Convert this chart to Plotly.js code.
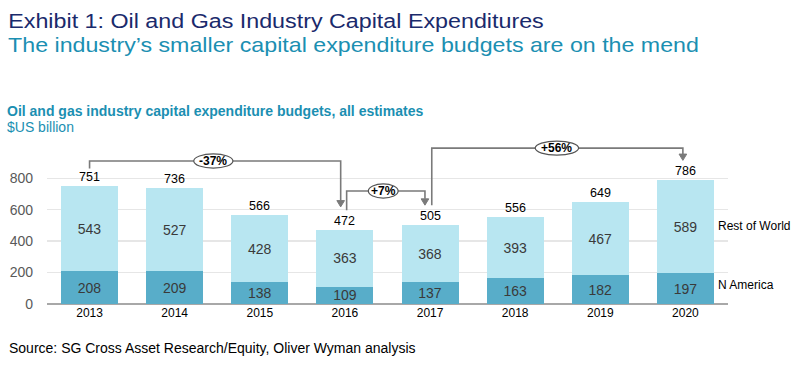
<!DOCTYPE html>
<html>
<head>
<meta charset="utf-8">
<script src="https://cdn.plot.ly/plotly-3.0.1.min.js"></script>
<style>
html,body{margin:0;padding:0;background:#fff;}
#chart{width:800px;height:369px;}
</style>
</head>
<body>
<div id="chart"></div>
<script>
// ---- data ----
const years = ['2013','2014','2015','2016','2017','2018','2019','2020'];
const nAmerica = [208, 209, 138, 109, 137, 163, 182, 197];
const restOfWorld = [543, 527, 428, 363, 368, 393, 467, 589];
const totals = [751, 736, 566, 472, 505, 556, 649, 786];
const yTicks = [0, 200, 400, 600, 800];
const changeLabels = ['-37%', '+7%', '+56%'];
const seriesNames = ['N America', 'Rest of World'];

// ---- styles ----
const FONT = 'Liberation Sans, Arial, sans-serif';
const DARK = '#58adc9';
const LIGHT = '#b8e6f1';
const LINE = '#7a7a7a';

// plot geometry helpers (paper coords)
const L = 47, R = 728, T = 138.6, B = 304;
const px = p => (p - L) / (R - L);
const py = p => (B - p) / (B - T);

const traces = [
  {
    type: 'bar', name: seriesNames[0], x: years, y: nAmerica,
    marker: {color: DARK}, text: nAmerica.map(String),
    textposition: 'inside', insidetextanchor: 'middle', constraintext: 'none',
    textfont: {family: FONT, size: 14, color: '#3a3a3a'}, hoverinfo: 'skip'
  },
  {
    type: 'bar', name: seriesNames[1], x: years, y: restOfWorld,
    marker: {color: LIGHT}, text: restOfWorld.map(String),
    textposition: 'inside', insidetextanchor: 'middle', constraintext: 'none',
    textfont: {family: FONT, size: 14, color: '#3a3a3a'}, hoverinfo: 'skip'
  }
];

const annotations = [];
// totals above bars
totals.forEach((t, i) => {
  annotations.push({
    x: i, y: t, xref: 'x', yref: 'y', text: String(t),
    showarrow: false, yanchor: 'bottom', yshift: 0,
    font: {family: FONT, size: 12.5, color: '#000'}
  });
});
// series labels at the right
annotations.push({x: 7.36, y: 495, xref: 'x', yref: 'y', xanchor: 'left', text: seriesNames[1],
  showarrow: false, font: {family: FONT, size: 12, color: '#000'}});
annotations.push({x: 7.36, y: 120, xref: 'x', yref: 'y', xanchor: 'left', text: seriesNames[0],
  showarrow: false, font: {family: FONT, size: 12, color: '#000'}});

// titles
const TITLE = 'Exhibit 1: Oil and Gas Industry Capital Expenditures';
const SUBTITLE = 'The industry’s smaller capital expenditure budgets are on the mend';
annotations.push({xref: 'paper', yref: 'paper', x: px(6), y: py(20), xanchor: 'left', yanchor: 'middle',
  text: TITLE, showarrow: false, font: {family: FONT, size: 20, color: '#1a2a6c'}});
annotations.push({xref: 'paper', yref: 'paper', x: px(6), y: py(44), xanchor: 'left', yanchor: 'middle',
  text: SUBTITLE, showarrow: false, font: {family: FONT, size: 20, color: '#1b8fb2'}});
annotations.push({xref: 'paper', yref: 'paper', x: px(5), y: py(111), xanchor: 'left', yanchor: 'middle',
  text: '<b>Oil and gas industry capital expenditure budgets, all estimates</b>', showarrow: false,
  font: {family: FONT, size: 14, color: '#1b8fb2'}});
annotations.push({xref: 'paper', yref: 'paper', x: px(5), y: py(127), xanchor: 'left', yanchor: 'middle',
  text: '$US billion', showarrow: false,
  font: {family: FONT, size: 14, color: '#1b8fb2'}});
annotations.push({xref: 'paper', yref: 'paper', x: px(7), y: py(348), xanchor: 'left', yanchor: 'middle',
  text: 'Source: SG Cross Asset Research/Equity, Oliver Wyman analysis', showarrow: false,
  font: {family: FONT, size: 14, color: '#000'}});

// change brackets
const brackets = [
  {x0: 0, yStart: 862, yTop: 910, x1: 2.95, yTip: 618, cx: 1.454, w: 0.46, label: changeLabels[0]},
  {x0: 3.02, yStart: 597, yTop: 719, x1: 3.94, yTip: 629, cx: 3.45, w: 0.35, label: changeLabels[1]},
  {x0: 4.02, yStart: 629, yTop: 992, x1: 6.97, yTip: 914, cx: 5.49, w: 0.51, label: changeLabels[2]}
];
const shapes = [];
brackets.forEach(b => {
  const headH = 40, headW = 0.045;
  shapes.push({type: 'path', xref: 'x', yref: 'y',
    path: `M ${b.x0},${b.yStart} L ${b.x0},${b.yTop} L ${b.x1},${b.yTop} L ${b.x1},${b.yTip + headH}`,
    line: {color: LINE, width: 1.6}});
  shapes.push({type: 'path', xref: 'x', yref: 'y',
    path: `M ${b.x1 - headW},${b.yTip + headH} L ${b.x1 + headW},${b.yTip + headH} L ${b.x1},${b.yTip} Z`,
    fillcolor: LINE, line: {color: LINE, width: 1}});
  shapes.push({type: 'circle', xref: 'x', yref: 'y',
    x0: b.cx - b.w / 2, x1: b.cx + b.w / 2, y0: b.yTop - 45, y1: b.yTop + 45,
    fillcolor: '#fff', line: {color: '#555', width: 1.2}});
  annotations.push({x: b.cx, y: b.yTop, xref: 'x', yref: 'y', text: '<b>' + b.label + '</b>',
    showarrow: false, font: {family: FONT, size: 12, color: '#000'}});
});

const layout = {
  width: 800, height: 369,
  margin: {l: L, r: 800 - R, t: T, b: 369 - B, pad: 0},
  paper_bgcolor: '#fff', plot_bgcolor: '#fff',
  barmode: 'stack', bargap: 0.33,
  showlegend: false,
  font: {family: FONT},
  xaxis: {
    type: 'category', range: [-0.5, 7.5], showgrid: false, zeroline: false,
    showline: false, ticks: '', tickfont: {family: FONT, size: 12, color: '#000'},
    fixedrange: true
  },
  yaxis: {
    range: [0, 1050], tickvals: yTicks, ticktext: yTicks.map(String),
    showgrid: true, gridcolor: '#e6e6e6', gridwidth: 1.5,
    zeroline: true, zerolinecolor: '#a8a8a8', zerolinewidth: 1.5,
    showline: false, ticks: '', ticklabelstandoff: 13,
    tickfont: {family: FONT, size: 14, color: '#595959'}, fixedrange: true
  },
  shapes: shapes,
  annotations: annotations
};

Plotly.newPlot('chart', traces, layout, {displayModeBar: false, staticPlot: true}).then(gd => {
  // widen the two headline texts horizontally to the reference's wide typeface
  const targets = {};
  targets[TITLE] = 536;
  targets[SUBTITLE] = 691;
  gd.querySelectorAll('text.annotation-text').forEach(el => {
    const w = targets[el.textContent];
    if (!w) return;
    const bb = el.getBBox();
    const s = w / bb.width;
    const prev = el.getAttribute('transform') || '';
    el.setAttribute('transform', `${prev} translate(${bb.x},0) scale(${s},1) translate(${-bb.x},0)`);
  });
});
</script>
</body>
</html>
